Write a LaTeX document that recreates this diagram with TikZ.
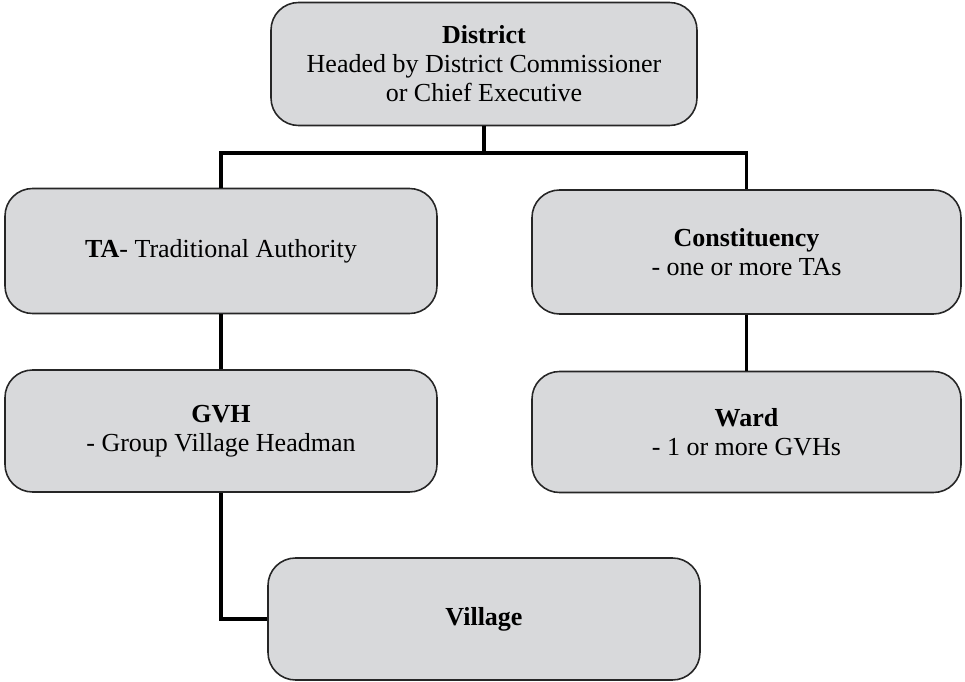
\documentclass[tikz,border=0pt]{standalone}
\usepackage{fontspec}
\setmainfont{Liberation Serif}
\begin{document}
\begin{tikzpicture}[x=0.02cm,y=-0.02cm,
  box/.style={draw=black!85, line width=0.9pt, fill=boxgray, rounded corners=0.55cm,
    align=center, font=\fontsize{14.8}{16.5}\selectfont, inner sep=0pt},
  link/.style={draw=black, line width=1.8pt}]
\definecolor{boxgray}{HTML}{D8D9DB}
\useasboundingbox (0,0) rectangle (965,682);
\node[box, minimum width=426*0.02cm, minimum height=123*0.02cm] (district) at (484,64)
  {\textbf{District}\\Headed by District Commissioner\\or Chief Executive};
\node[box, minimum width=432*0.02cm, minimum height=125*0.02cm] (ta) at (221,251)
  {\textbf{TA}- Traditional Authority};
\node[box, minimum width=429*0.02cm, minimum height=124*0.02cm] (const) at (746.5,252)
  {\textbf{Constituency}\\- one or more TAs};
\node[box, minimum width=432*0.02cm, minimum height=122*0.02cm] (gvh) at (221,431)
  {\textbf{GVH}\\- Group Village Headman};
\node[box, minimum width=429*0.02cm, minimum height=121*0.02cm] (ward) at (746.5,432)
  {\textbf{Ward}\\- 1 or more GVHs};
\node[box, minimum width=432*0.02cm, minimum height=122*0.02cm] (village) at (484,619)
  {\textbf{Village}};
\coordinate (bus) at (484,153);
\draw[link] (district.south) -- (bus);
\draw[link] (ta.north) |- (bus) -| (const.north);
\draw[link] (ta.south) -- (gvh.north);
\draw[link] (const.south) -- (ward.north);
\draw[link] (gvh.south) |- (village.west);
\end{tikzpicture}
\end{document}
